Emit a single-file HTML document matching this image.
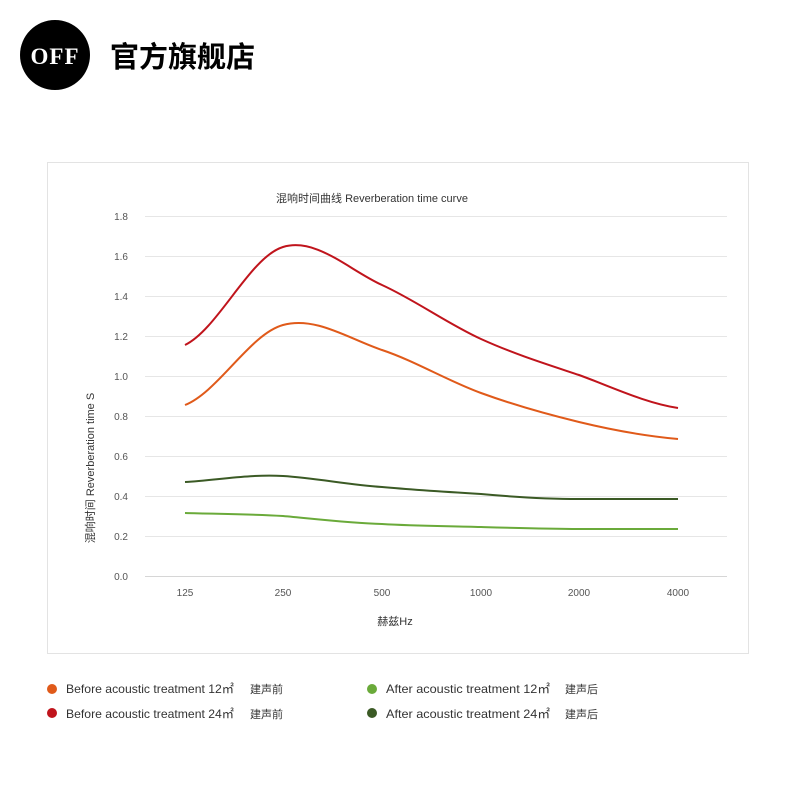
<!DOCTYPE html>
<html><head><meta charset="utf-8"><style>
body{margin:0;background:#fff;width:800px;height:800px;overflow:hidden;font-family:"Liberation Sans","Noto Sans CJK SC",sans-serif}
</style></head><body>
<svg width="800" height="800" xmlns="http://www.w3.org/2000/svg" style="position:absolute;left:0;top:0">
<circle cx="55" cy="55" r="35" fill="#000"/>
<text x="55" y="64" text-anchor="middle" font-family="Liberation Serif,serif" font-weight="bold" font-size="23" letter-spacing="1" fill="#fff">OFF</text>
<text x="110" y="67" font-family="Noto Sans CJK SC,sans-serif" font-weight="bold" font-size="29" fill="#000">官方旗舰店</text>
<rect x="47.5" y="162.5" width="701" height="491" fill="#fff" stroke="#e3e3e3"/>
<text x="372" y="202" text-anchor="middle" font-size="11" fill="#333" font-family="Liberation Sans,Noto Sans CJK SC,sans-serif">混响时间曲线 Reverberation time curve</text>
<g stroke="#e6e6e6" stroke-width="1">
<line x1="145" x2="727" y1="216.5" y2="216.5"/><line x1="145" x2="727" y1="256.5" y2="256.5"/>
<line x1="145" x2="727" y1="296.5" y2="296.5"/><line x1="145" x2="727" y1="336.5" y2="336.5"/>
<line x1="145" x2="727" y1="376.5" y2="376.5"/><line x1="145" x2="727" y1="416.5" y2="416.5"/>
<line x1="145" x2="727" y1="456.5" y2="456.5"/><line x1="145" x2="727" y1="496.5" y2="496.5"/>
<line x1="145" x2="727" y1="536.5" y2="536.5"/><line x1="145" x2="727" y1="576.5" y2="576.5" stroke="#d6d6d6"/>
</g>
<g font-size="10" fill="#555" text-anchor="end">
<text x="128" y="220">1.8</text><text x="128" y="260">1.6</text><text x="128" y="300">1.4</text>
<text x="128" y="340">1.2</text><text x="128" y="380">1.0</text><text x="128" y="420">0.8</text>
<text x="128" y="460">0.6</text><text x="128" y="500">0.4</text><text x="128" y="540">0.2</text><text x="128" y="580">0.0</text>
</g>
<g font-size="10" fill="#555" text-anchor="middle">
<text x="185" y="596">125</text><text x="283" y="596">250</text><text x="382" y="596">500</text>
<text x="481" y="596">1000</text><text x="579" y="596">2000</text><text x="678" y="596">4000</text>
</g>
<text x="395" y="625" text-anchor="middle" font-size="11" fill="#333">赫兹Hz</text>
<text transform="translate(94,468) rotate(-90)" text-anchor="middle" font-size="11" fill="#333">混响时间  Reverberation time  S</text>
<g fill="none" stroke-width="2">
<path stroke="#e05a1a" d="M185,405 C218,392 250,334 283,325 C316,316 349,339 382,350 C415,361 448,381 481,393 C514,405 546,414 579,422 C612,430 645,436 678,439"/>
<path stroke="#c0141c" d="M185,345 C218,329 250,257 283,247 C316,237 349,270 382,285 C415,300 448,324 481,339 C514,354 546,364 579,375 C612,387 645,403 678,408"/>
<path stroke="#3b5a25" d="M185,482 C218,480 250,474 283,476 C316,478 349,485 382,487 C415,490 448,492 481,494 C514,497 546,499 579,499 C612,499 645,499 678,499"/>
<path stroke="#6aaa3a" d="M185,513 C218,514 250,514 283,516 C316,519 349,523 382,524 C415,526 448,526 481,527 C514,528 546,529 579,529 C612,529 645,529 678,529"/>
</g>
<g font-size="12" fill="#333" font-family="Liberation Sans,Noto Sans CJK SC,sans-serif">
<circle cx="52" cy="689" r="5" fill="#e05a1a"/><text x="66" y="693" textLength="168" lengthAdjust="spacingAndGlyphs">Before acoustic treatment 12㎡</text><text x="250" y="693" font-size="11">建声前</text>
<circle cx="52" cy="713" r="5" fill="#c0141c"/><text x="66" y="718" textLength="168" lengthAdjust="spacingAndGlyphs">Before acoustic treatment 24㎡</text><text x="250" y="718" font-size="11">建声前</text>
<circle cx="372" cy="689" r="5" fill="#6aaa3a"/><text x="386" y="693" textLength="164" lengthAdjust="spacingAndGlyphs">After acoustic treatment 12㎡</text><text x="565" y="693" font-size="11">建声后</text>
<circle cx="372" cy="713" r="5" fill="#3b5a25"/><text x="386" y="718" textLength="164" lengthAdjust="spacingAndGlyphs">After acoustic treatment 24㎡</text><text x="565" y="718" font-size="11">建声后</text>
</g>
</svg>
</body></html>
